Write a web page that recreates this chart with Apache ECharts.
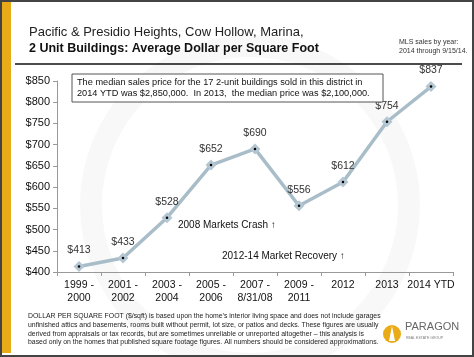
<!DOCTYPE html>
<html><head><meta charset="utf-8">
<script src="https://cdn.jsdelivr.net/npm/echarts@6/dist/echarts.min.js"></script>
<style>html,body{margin:0;padding:0;background:#fff;}#c{width:474px;height:357px;}</style>
</head><body><div id="c"></div>
<script>
const categories = ['1999 -\n2000','2001 -\n2002','2003 -\n2004','2005 -\n2006','2007 -\n8/31/08','2009 -\n2011','2012','2013','2014 YTD'];
const values = [413,433,528,652,690,556,612,754,837];
const yMin = 400, yMax = 850, yStep = 50;
const titleLines = ['Pacific & Presidio Heights, Cow Hollow, Marina,','2 Unit Buildings: Average Dollar per Square Foot'];
const noteLines = ['MLS sales by year:','2014 through 9/15/14.'];
const boxLines = ['The median sales price for the 17 2-unit buildings sold in this district in','2014 YTD was $2,850,000.  In 2013,  the median price was $2,100,000.'];
const events = ['2008 Markets Crash \u2191','2012-14 Market Recovery \u2191'];
const footerLines = [
 'DOLLAR PER SQUARE FOOT ($/sqft) is based upon the home\u2019s interior living space and does not include garages',
 'unfinished attics and basements, rooms built without permit, lot size, or patios and decks. These figures are usually',
 'derived from appraisals or tax records, but are sometimes unreliable or unreported altogether \u2013 this analysis is',
 'based only on the homes that published square footage figures. All numbers should be considered approximations.'
];
const F = 'Liberation Sans, Arial, sans-serif';
const chart = echarts.init(document.getElementById('c'), null, {renderer:'canvas'});
const g = [];
// watermark ring
g.push({type:'ring', shape:{cx:250, cy:205, r:170, r0:148}, style:{fill:'#f8f8f8'}, z:-10, silent:true});
// frame
g.push({type:'rect', shape:{x:0,y:0,width:474,height:357}, style:{fill:'none', stroke:'#444', lineWidth:4}, z:10});
g.push({type:'rect', shape:{x:2,y:2,width:9,height:351}, style:{fill:'#e9ab17'}, z:9});
// title
g.push({type:'text', left:29, top:26, style:{text:titleLines[0], font:'13px '+F, fill:'#222'}});
g.push({type:'text', left:29, top:42, style:{text:titleLines[1], font:'bold 12.5px '+F, fill:'#111'}});
g.push({type:'text', left:399, top:38, style:{text:noteLines.join('\n'), font:'7px '+F, fill:'#333', lineHeight:9}});
g.push({type:'line', shape:{x1:15,y1:64,x2:462,y2:64}, style:{stroke:'#111', lineWidth:1.5}});
// annotation box
g.push({type:'rect', shape:{x:72,y:74,width:311,height:28}, style:{fill:'#fff', stroke:'#555', lineWidth:1}, z:5});
g.push({type:'text', left:77, top:77, z:6, style:{text:boxLines.join('\n'), font:'9.2px '+F, fill:'#111', lineHeight:11}});
g.push({type:'text', left:178, top:220, style:{text:events[0], font:'10px '+F, fill:'#111'}});
g.push({type:'text', left:222, top:251, style:{text:events[1], font:'10px '+F, fill:'#111'}});
// footer
g.push({type:'text', left:28, top:312, style:{text:footerLines.join('\n'), font:'6.9px '+F, fill:'#222', lineHeight:8.7}});
// logo
g.push({type:'circle', shape:{cx:392, cy:334, r:9}, style:{fill:'#e9ab17'}});
g.push({type:'polygon', shape:{points:[[392,326],[389,341],[395,341]]}, style:{fill:'#fff'}});
g.push({type:'text', left:405, top:321, style:{text:'PARAGON', font:'11px '+F, fill:'#666'}});
g.push({type:'text', left:406, top:336, style:{text:'REAL ESTATE GROUP', font:'3.5px '+F, fill:'#777'}});

chart.setOption({
  animation:false,
  backgroundColor:'#fff',
  grid:{left:57, right:21, top:81, bottom:85, containLabel:false},
  xAxis:{type:'category', data:categories, boundaryGap:true,
    axisLine:{lineStyle:{color:'#999', width:1}},
    axisTick:{show:true, length:4, lineStyle:{color:'#999'}},
    axisLabel:{interval:0, color:'#111', fontFamily:F, fontSize:10.5, lineHeight:13, margin:7}},
  yAxis:{type:'value', min:yMin, max:yMax, interval:yStep,
    splitLine:{show:false},
    axisLine:{show:true, lineStyle:{color:'#999'}},
    axisTick:{show:true, length:4, lineStyle:{color:'#999'}},
    axisLabel:{formatter:v=>'$'+v, color:'#111', fontFamily:F, fontSize:11, margin:7}},
  series:[
    {type:'line', data:values, symbol:'diamond', symbolSize:11,
      lineStyle:{color:'#a9bdc9', width:3.5}, itemStyle:{color:'#b3c6d1'},
      label:{show:true, position:'top', distance:5, formatter:p=>'$'+p.value, color:'#333', fontFamily:F, fontSize:10.5}},
    {type:'line', data:values, symbol:'circle', symbolSize:2.5, lineStyle:{width:0, opacity:0}, itemStyle:{color:'#000'}, z:3}
  ],
  graphic:g
});
</script></body></html>
